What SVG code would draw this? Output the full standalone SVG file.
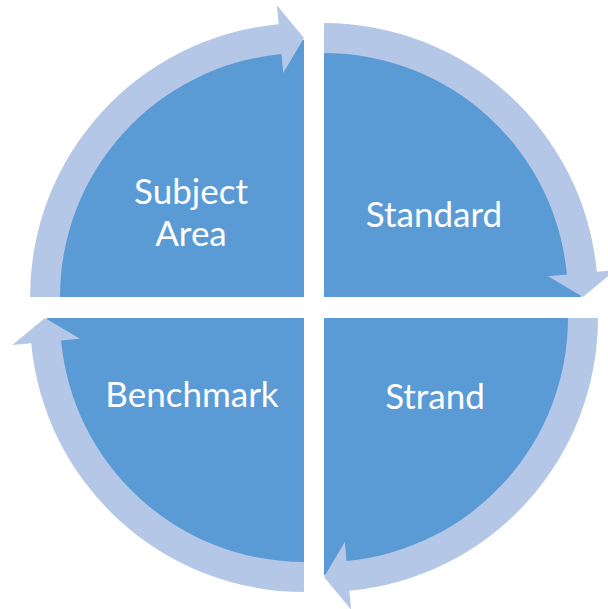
<svg xmlns="http://www.w3.org/2000/svg" xmlns:xlink="http://www.w3.org/1999/xlink" width="608" height="609" viewBox="0 0 608 609">
<style>
.pie{fill:#5B9BD5}
.arr{fill:#B4C7E7}
.lbl{fill:#FFFFFF;font-family:Lato,"Open Sans","Liberation Sans",sans-serif;font-size:35px;text-anchor:middle}
</style>
<defs>
<path id="pieq" d="M0 0 L-257 0 A257 257 0 0 1 0 -257 Z"/>
<path id="arrq" d="M-274 0 A274 274 0 0 1 -25.3 -272.8 L-27.1 -291.7 L0 -259 L-20.8 -224 L-22.5 -242.9 A244 244 0 0 0 -244 0 Z"/>
</defs>
<rect width="608" height="609" fill="#FFFFFF"/>
<g id="subject-area">
<use xlink:href="#pieq" class="pie" transform="translate(304,297)"/>
<text class="lbl" x="191" y="204">Subject</text>
<text class="lbl" x="191" y="246">Area</text>
</g>
<g id="standard">
<use xlink:href="#pieq" class="pie" transform="translate(324,297) rotate(90)"/>
<text class="lbl" x="434" y="227">Standard</text>
</g>
<g id="strand">
<use xlink:href="#pieq" class="pie" transform="translate(324,318) rotate(180)"/>
<text class="lbl" x="435" y="409">Strand</text>
</g>
<g id="benchmark">
<use xlink:href="#pieq" class="pie" transform="translate(304,318) rotate(270)"/>
<text class="lbl" x="192" y="407">Benchmark</text>
</g>
<g id="connectors">
<use xlink:href="#arrq" class="arr" transform="translate(304,297)"/>
<use xlink:href="#arrq" class="arr" transform="translate(324,297) rotate(90)"/>
<use xlink:href="#arrq" class="arr" transform="translate(324,318) rotate(180)"/>
<use xlink:href="#arrq" class="arr" transform="translate(304,318) rotate(270)"/>
</g>
</svg>
